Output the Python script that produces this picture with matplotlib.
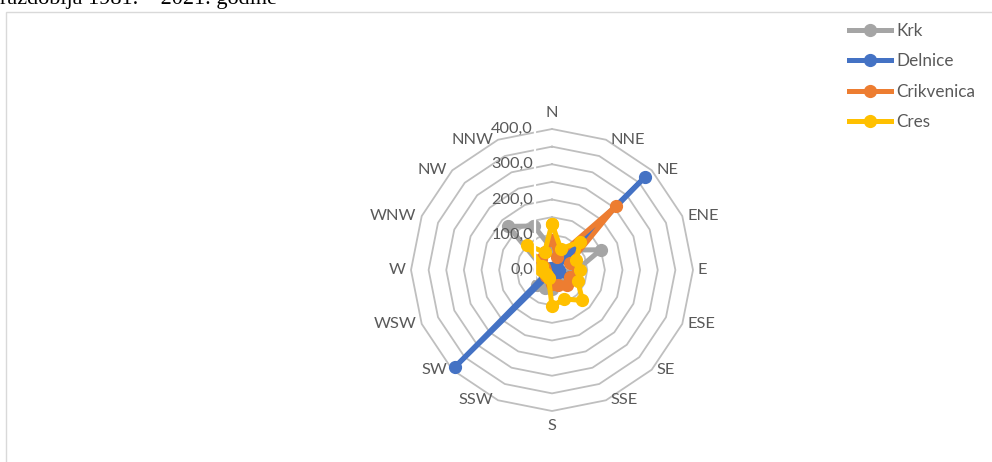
import numpy as np
import matplotlib
matplotlib.use("Agg")
import matplotlib.pyplot as plt
from matplotlib.lines import Line2D
from matplotlib.patches import Rectangle

# Wind directions and frequencies per station
directions = ['N', 'NNE', 'NE', 'ENE', 'E', 'ESE', 'SE', 'SSE',
              'S', 'SSW', 'SW', 'WSW', 'W', 'WNW', 'NW', 'NNW']
krk = [60, 45, 80, 150, 70, 40, 35, 30, 55, 55, 60, 25, 20, 35, 175, 135]
delnice = [5, 5, 375, 15, 20, 55, 15, 5, 5, 10, 388, 10, 5, 5, 5, 5]
crikvenica = [85, 40, 258, 55, 75, 55, 60, 45, 40, 25, 25, 20, 20, 25, 45, 55]
cres = [131, 65, 113, 75, 80, 79, 122, 89, 103, 25, 20, 20, 30, 30, 100, 55]

series = [('Krk', krk, '#A5A5A5'),
          ('Delnice', delnice, '#4472C4'),
          ('Crikvenica', crikvenica, '#ED7D31'),
          ('Cres', cres, '#FFC000')]

ring_values = [50, 100, 150, 200, 250, 300, 350, 400]
axis_labels = [0, 100, 200, 300, 400]
r_max = 400

W, H, DPI = 992, 462, 100
cx, cy = 552, 270          # plot centre in pixels (from top-left)
rad = 141                  # radius of the outer ring in pixels

plt.rcParams['font.family'] = ['Lato', 'DejaVu Sans']
fig = plt.figure(figsize=(W / DPI, H / DPI), dpi=DPI)

# chart-area frame
fig.add_artist(Rectangle((6 / W, -0.2), 1.2, 1.2 - 12 / H,
                         transform=fig.transFigure, fill=False,
                         edgecolor='#D9D9D9', lw=1.0))

# caption line above the chart area
fig.text(0 / W, 1 - 4 / H, 'razdoblja 1981. – 2021. godine',
         family=['Liberation Serif', 'DejaVu Serif'], fontsize=16,
         ha='left', va='baseline', color='black')

ax = fig.add_axes([(cx - rad) / W, (H - cy - rad) / H, 2 * rad / W, 2 * rad / H],
                  projection='polar')
ax.set_theta_zero_location('N')
ax.set_theta_direction(-1)
ax.set_ylim(0, r_max)
ax.grid(False)
ax.set_xticks([])
ax.set_yticks([])
ax.spines['polar'].set_visible(False)
ax.patch.set_alpha(0)

theta = np.deg2rad(np.arange(len(directions)) * 360 / len(directions))
theta_closed = np.append(theta, theta[0])

# polygonal gridlines
for rv in ring_values:
    ax.plot(theta_closed, [rv] * (len(theta) + 1), color='#BFBFBF', lw=1.3,
            zorder=1, clip_on=False)

# data series
LW, MS = 3.6, 8.5
for name, vals, col in series:
    v = np.append(vals, vals[0])
    ax.plot(theta_closed, v, color=col, lw=LW, marker='o', markersize=MS,
            label=name, zorder=3, clip_on=False, solid_joinstyle='round')

px2pt = 72 / DPI
label_color = '#595959'

# category labels around the outer ring
for t, name in zip(theta, directions):
    s, c = np.sin(t), np.cos(t)
    if abs(s) < 1e-6:
        ha = 'center'
        off = (0, 9 if c > 0 else -8)
        va = 'bottom' if c > 0 else 'top'
    else:
        ha = 'left' if s > 0 else 'right'
        va = 'center'
        off = (5 if s > 0 else -5, 0)
    ax.annotate(name, xy=(t, r_max), xycoords='data',
                xytext=(off[0] * px2pt, off[1] * px2pt), textcoords='offset points',
                ha=ha, va=va, fontsize=11.8, color=label_color,
                annotation_clip=False)

# value axis labels
for v in axis_labels:
    ax.annotate(f'{v:.1f}'.replace('.', ','), xy=(0, v), xycoords='data',
                xytext=(-19 * px2pt, 0), textcoords='offset points',
                ha='right', va='center', fontsize=11.8, color=label_color,
                annotation_clip=False, zorder=5)

# vertical value axis line
fig.add_artist(Line2D([(cx - 17) / W] * 2, [(H - cy - 9) / H, (H - cy + rad + 1) / H],
                      transform=fig.transFigure, color='white', lw=1.6, zorder=10))

handles = [Line2D([], [], color=col, lw=LW, marker='o', markersize=MS)
           for _, _, col in series]
fig.legend(handles, [s[0] for s in series], loc='upper left',
           bbox_to_anchor=(849 / W, 1 - 23 / H), frameon=False,
           fontsize=12.3, handlelength=2.45, handletextpad=0.3,
           labelspacing=0.84, borderpad=0, borderaxespad=0,
           labelcolor=label_color)

fig.savefig('out.png', dpi=DPI)
